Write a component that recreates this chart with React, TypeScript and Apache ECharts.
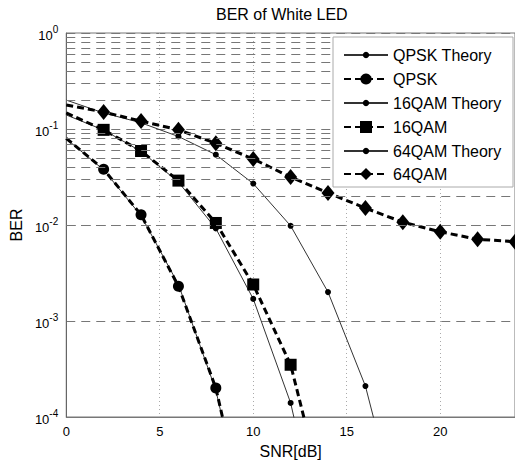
import React, { useEffect, useRef } from "react";
import * as echarts from "echarts";

const FONT = "'Liberation Sans', Arial, Helvetica, sans-serif";

// SNR [dB] sample points
const snr = [0, 2, 4, 6, 8, 10, 12, 14, 16, 18, 20, 22, 24];

// BER values (points after the last visible one fall below 1e-4)
const qpskTheory = [0.079, 0.0375, 0.0125, 0.0024, 0.00019, 0.0000039];
const qpskSim = [0.08, 0.038, 0.0128, 0.0023, 0.0002, 0.000004];
const qam16Theory = [0.14, 0.0975, 0.0585, 0.028, 0.0092, 0.0017, 0.00014, 0.0000028];
const qam16Sim = [0.147, 0.098, 0.059, 0.029, 0.0105, 0.0024, 0.00035, 0.00001];
const qam64Theory = [0.2, 0.147, 0.116, 0.0835, 0.054, 0.027, 0.0098, 0.002, 0.00021, 0.0000064];
const qam64Sim = [0.178, 0.15, 0.121, 0.098, 0.071, 0.0487, 0.0316, 0.0216, 0.015, 0.0107, 0.0085, 0.0071, 0.0067];

// axis settings
const xTicks = [0, 5, 10, 15, 20];
const yDecades = [1e-4, 1e-3, 1e-2, 1e-1];
const yMantissas = [2, 3, 4, 5, 6, 7, 8, 9];

const legendNames = ["QPSK Theory", "QPSK", "16QAM Theory", "16QAM", "64QAM Theory", "64QAM"];

function toPairs(vals: number[]) {
  return vals.map((v, i) => (i === 0 ? { value: [snr[i], v], symbol: "none" } : [snr[i], v]));
}

export default function App() {
  const ref = useRef<HTMLDivElement>(null);
  useEffect(() => {
    if (!ref.current) return;
    const chart = echarts.init(ref.current, undefined, { renderer: "svg" });

    const minorLines: any[] = [];
    yDecades.forEach((d) => yMantissas.forEach((m) => minorLines.push({ yAxis: d * m })));

    const theoryStyle = (name: string, vals: number[]) => ({
      name,
      type: "line",
      data: toPairs(vals),
      symbol: "circle",
      symbolSize: 6,
      lineStyle: { color: "#333", width: 1 },
      itemStyle: { color: "#000" },
      z: 3,
    });
    const simStyle = (name: string, vals: number[], symbol: string, size: any) => ({
      name,
      type: "line",
      data: toPairs(vals),
      symbol,
      symbolSize: size,
      lineStyle: { color: "#000", width: 3, type: [7, 4] },
      itemStyle: { color: "#000" },
      z: 4,
    });

    const rowCenters = [55, 79, 103, 127, 151, 174];
    const rowHeights = [8, 14, 8, 15, 8, 15];

    const legends = legendNames.map((n, i) => ({
      data: [n],
      left: 343,
      top: rowCenters[i] - 8,
      padding: 0,
      itemWidth: 44,
      itemHeight: rowHeights[i],
      itemGap: 0,
      selectedMode: false,
      z: 20,
      textStyle: { fontSize: 16, color: "#000", fontFamily: FONT },
    }));

    chart.setOption({
      animation: false,
      backgroundColor: "#fff",
      title: {
        text: "BER of White LED",
        left: 216,
        top: 6,
        padding: 0,
        textStyle: { fontSize: 16, fontWeight: "normal", color: "#000", fontFamily: FONT },
      },
      legend: legends,
      graphic: [
        {
          type: "rect",
          z: 10,
          shape: { x: 333, y: 37, width: 180, height: 150 },
          style: { fill: "#fff", stroke: "#aaa", lineWidth: 1 },
        },
      ],
      grid: {
        left: 57,
        top: 33,
        right: 0,
        bottom: 48,
        show: true,
        borderColor: "#777",
        borderWidth: 1,
      },
      xAxis: {
        type: "value",
        min: 0,
        max: 24,
        interval: 5,
        name: "SNR[dB]",
        nameLocation: "middle",
        nameGap: 26,
        nameTextStyle: { fontSize: 16, color: "#000", fontFamily: FONT },
        axisLine: { lineStyle: { color: "#777" } },
        axisTick: { show: false },
        axisLabel: {
          showMaxLabel: false,
          margin: 8,
          fontSize: 13,
          color: "#000",
          fontFamily: FONT,
          formatter: (v: number) => (xTicks.includes(v) ? String(v) : ""),
        },
        splitLine: { show: true, lineStyle: { color: "#aaa", type: [1, 3], width: 1 } },
      },
      yAxis: {
        type: "log",
        logBase: 10,
        min: 1e-4,
        max: 1,
        name: "BER",
        nameLocation: "middle",
        nameGap: 40,
        nameTextStyle: { fontSize: 16, color: "#000", fontFamily: FONT },
        axisLine: { show: true, lineStyle: { color: "#666" } },
        axisTick: { show: false },
        axisLabel: {
          margin: 8,
          formatter: (v: number) => `{b|10}{s|${Math.round(Math.log10(v))}}`,
          rich: {
            b: { fontSize: 13, color: "#000", fontFamily: FONT, verticalAlign: "bottom", lineHeight: 18 },
            s: { fontSize: 10, color: "#000", fontFamily: FONT, verticalAlign: "top", lineHeight: 10 },
          },
        },
        splitLine: { show: true, lineStyle: { color: "#777", type: [9, 6], width: 1 } },
      },
      series: [
        {
          name: "grid-minor",
          type: "line",
          data: [],
          silent: true,
          z: 1,
          markLine: {
            silent: true,
            symbol: ["none", "none"],
            label: { show: false },
            lineStyle: { color: "#777", type: [9, 6], width: 1 },
            data: minorLines,
          },
        },
        theoryStyle("QPSK Theory", qpskTheory),
        simStyle("QPSK", qpskSim, "circle", 11),
        theoryStyle("16QAM Theory", qam16Theory),
        simStyle("16QAM", qam16Sim, "rect", 12),
        theoryStyle("64QAM Theory", qam64Theory),
        simStyle("64QAM", qam64Sim, "diamond", [13, 16]),
      ],
    });
    return () => chart.dispose();
  }, []);
  return <div ref={ref} style={{ position: "absolute", left: 0, top: 0, width: 515, height: 465 }} />;
}
